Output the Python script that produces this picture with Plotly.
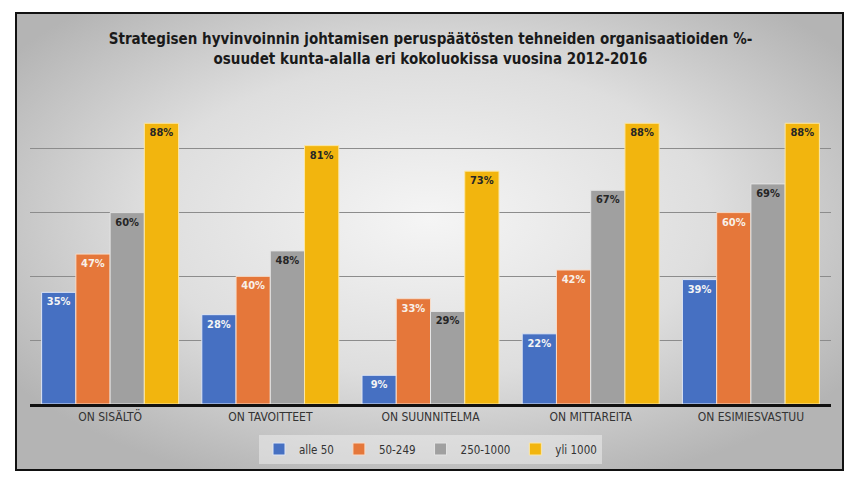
import base64
import plotly.graph_objects as go

categories = ["ON SISÄLTÖ", "ON TAVOITTEET", "ON SUUNNITELMA", "ON MITTAREITA", "ON ESIMIESVASTUU"]
series_names = ["alle 50", "50-249", "250-1000", "yli 1000"]
alle_50 = [35, 28, 9, 22, 39]
v_50_249 = [47, 40, 33, 42, 60]
v_250_1000 = [60, 48, 29, 67, 69]
yli_1000 = [88, 81, 73, 88, 88]
values = [alle_50, v_50_249, v_250_1000, yli_1000]

title_text = ("Strategisen hyvinvoinnin johtamisen peruspäätösten tehneiden organisaatioiden %-"
              "<br>osuudet kunta-alalla eri kokoluokissa vuosina 2012-2016")

colors = ["#4670c2", "#e5773a", "#a0a0a0", "#f2b50e"]
text_colors = ["#f4f4f4", "#f8f0e8", "#262626", "#262626"]
line_colors = ["#dfe6f5", "#f7dcc9", "#e4e4e4", "#fbe7a6"]

FONT = "DejaVu Sans Condensed, Liberation Sans Narrow, Arial Narrow, sans-serif"

# page has an 8px body margin; the figure is drawn at (8, 8)
W, H = 850, 473
ML, MR, MT, MB = 22, 27, 77, 77
plot_w = W - ML - MR
plot_h = H - MT - MB

fig = go.Figure()
for name, vals, c, tc, lc in zip(series_names, values, colors, text_colors, line_colors):
    fig.add_trace(go.Bar(
        name=name, x=categories, y=vals,
        marker=dict(color=c, line=dict(color=lc, width=1)),
        text=vals, texttemplate="%{y}%",
        textposition="inside", insidetextanchor="end", textangle=0,
        constraintext="none",
        textfont=dict(family=FONT, size=11, color=tc, weight="bold"),
    ))

# radial gradient background (box coords in figure pixels)
box_l, box_r, box_t, box_b = 8, 835, 5, 462
svg = ('<svg xmlns="http://www.w3.org/2000/svg" width="827" height="457" viewBox="0 0 100 100" preserveAspectRatio="none">'
       '<defs><radialGradient id="g" cx="50%" cy="45%" r="62%">'
       '<stop offset="0" stop-color="#f5f5f5"/><stop offset="0.55" stop-color="#dedede"/>'
       '<stop offset="1" stop-color="#b4b4b4"/></radialGradient></defs>'
       '<rect x="0" y="0" width="100" height="100" fill="url(#g)"/></svg>')
src = "data:image/svg+xml;base64," + base64.b64encode(svg.encode()).decode()

px2x = lambda p: (p - ML) / plot_w
py2y = lambda p: (H - MB - p) / plot_h

fig.add_layout_image(dict(
    source=src, xref="paper", yref="paper",
    x=px2x(box_l), y=py2y(box_t),
    sizex=px2x(box_r) - px2x(box_l), sizey=py2y(box_t) - py2y(box_b),
    xanchor="left", yanchor="top", sizing="stretch", layer="below",
))
fig.add_shape(type="rect", xref="paper", yref="paper",
              x0=px2x(box_l), x1=px2x(box_r), y0=py2y(box_b), y1=py2y(box_t),
              line=dict(color="#111111", width=2), fillcolor="rgba(0,0,0,0)", layer="above")

fig.update_layout(
    width=W, height=H,
    margin=dict(l=ML, r=MR, t=MT, b=MB),
    paper_bgcolor="white", plot_bgcolor="rgba(0,0,0,0)",
    barmode="group", bargap=0.145, bargroupgap=0,
    title=dict(text=title_text, x=0.5, xref="paper", y=1 - 36 / H, yanchor="middle",
               font=dict(family=FONT, size=15, color="#1a1a1a", weight="bold")),
    font=dict(family=FONT, size=12, color="#333333"),
    showlegend=True,
    legend=dict(orientation="h", x=0.5, xanchor="center", y=py2y(441), yanchor="middle",
                bgcolor="rgba(236,236,236,0.55)", font=dict(size=11.5, color="#333333"),
                itemwidth=30, traceorder="normal"),
    xaxis=dict(showline=True, linecolor="#111111", linewidth=3, ticks="",
               tickfont=dict(size=12, color="#333333"), showgrid=False),
    yaxis=dict(range=[0, 100], dtick=20, showticklabels=False, showgrid=True,
               gridcolor="#8c8c8c", gridwidth=1, zeroline=False, showline=False),
)

fig.write_html("out.html")
